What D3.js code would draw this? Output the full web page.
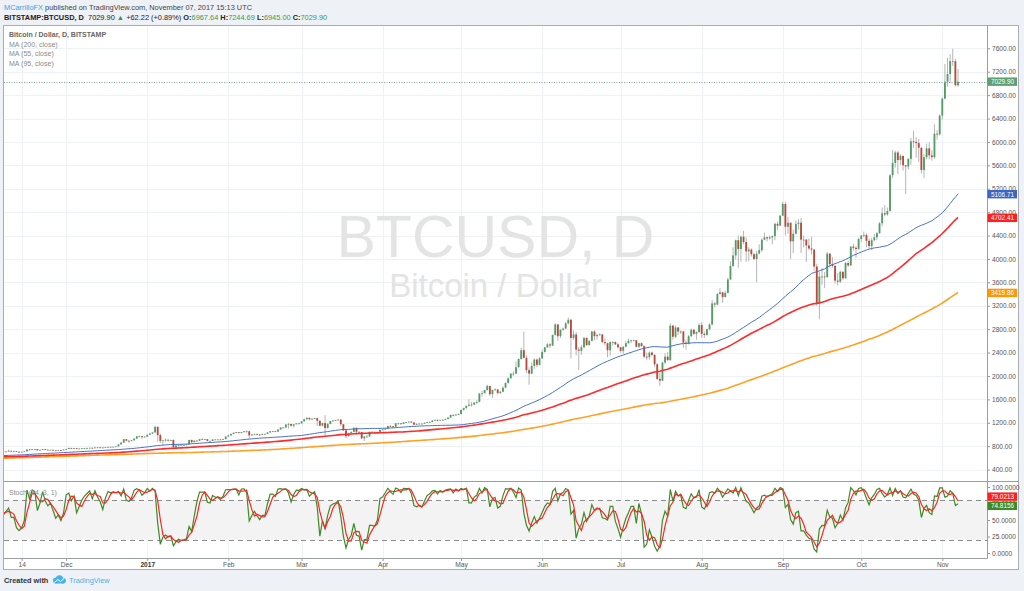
<!DOCTYPE html>
<html>
<head>
<meta charset="utf-8">
<title>BTCUSD, D</title>
<script src="https://d3js.org/d3.v7.min.js"></script>
<style>
  body { margin: 0; background: #eef1f5; }
  svg { display: block; font-family: "Liberation Sans", Arial, sans-serif; }
  .axis text { font-size: 6.6px; fill: #555; }
  .axis line { stroke: #999; }
  .axis path { display: none; }
  .legend { font-size: 7px; fill: #8a8a8a; }
</style>
</head>
<body>
<svg width="1024" height="591"></svg>
<script>
// ---- data (Bitstamp BTCUSD, daily) ----
// closes only, 2016-04-21 .. 2016-10-19, needed for the 200 day average
const earlyStart = "2016-04-21";
const earlyClose = [
  450, 445, 448, 458, 462, 465, 445, 448, 453, 448,
  451, 443, 448, 445, 447, 459, 459, 457, 462, 450, 452, 454, 454, 455, 457, 454, 453, 452, 440, 442, 441, 439, 444, 444, 449, 449, 470, 525, 515, 530, 532,
  535, 537, 568, 573, 578, 583, 575, 580, 575, 577, 585, 670, 700, 685, 692, 765, 745, 755, 762, 735, 665, 595, 620, 665, 665, 630, 650, 645, 635, 670,
  676, 700, 660, 675, 667, 670, 638, 660, 650, 648, 648, 672, 655, 657, 665, 662, 678, 672, 670, 665, 665, 650, 655, 660, 655, 652, 655, 655, 656, 655, 624,
  605, 515, 565, 575, 575, 585, 590, 590, 585, 590, 588, 585, 585, 570, 567, 580, 575, 575, 575, 582, 581, 588, 583, 580, 577, 578, 570, 573, 573, 575, 573,
  571, 574, 600, 608, 605, 610, 612, 624, 623, 623, 605, 608, 610, 609, 607, 606, 606, 610, 609, 608, 596, 595, 602, 603, 600, 606, 605, 604, 605, 608,
  612, 610, 611, 608, 611, 612, 617, 618, 615, 617, 640, 636, 636, 638, 638, 641, 638, 637, 630
];

// full bars from 2016-10-20 to 2017-11-07 (open = previous close)
const firstDay = "2016-10-20";
const close = [
  629, 631, 656, 652, 651, 654, 676, 683, 687, 714, 698, 698,
  728, 739, 687, 705, 703, 711, 705, 710, 722, 715, 715, 705, 702, 705, 712, 743, 740, 750, 750, 730, 738, 750, 740, 735, 738, 730, 728, 733, 732, 742,
  752, 770, 764, 768, 755, 760, 765, 768, 770, 773, 767, 778, 780, 778, 775, 782, 788, 789, 790, 797, 830, 860, 920, 893, 890, 900, 930, 970, 970, 955, 963,
  995, 1015, 1035, 1130, 990, 890, 900, 910, 900, 905, 785, 810, 825, 818, 820, 830, 905, 870, 895, 892, 920, 920, 920, 890, 890, 915, 915, 915, 912, 920, 965,
  985, 1010, 1030, 1040, 1025, 1040, 1055, 1055, 985, 1000, 1010, 1000, 995, 1010, 1010, 1035, 1055, 1055, 1050, 1085, 1120, 1120, 1170, 1180, 1150, 1175, 1190, 1190,
  1225, 1260, 1285, 1260, 1270, 1280, 1235, 1150, 1195, 1110, 1180, 1230, 1240, 1245, 1255, 1175, 1070, 970, 1020, 1045, 1115, 1045, 1040, 935, 965, 965, 1045, 1045, 1040, 1035, 1080,
  1085, 1100, 1145, 1140, 1130, 1190, 1190, 1180, 1205, 1210, 1220, 1205, 1170, 1180, 1185, 1185, 1200, 1210, 1215, 1240, 1250, 1245, 1250, 1250, 1265, 1290, 1335, 1330, 1340, 1350,
  1420, 1450, 1490, 1510, 1510, 1545, 1555, 1700, 1705, 1760, 1830, 1690, 1760, 1770, 1710, 1730, 1800, 1880, 1960, 2040, 2040, 2150, 2290, 2440, 2310, 2100, 2040, 2170, 2280, 2190, 2300,
  2410, 2490, 2540, 2520, 2700, 2880, 2680, 2790, 2810, 2900, 2960, 2650, 2710, 2450, 2430, 2490, 2650, 2530, 2600, 2760, 2680, 2700, 2710, 2580, 2560, 2440, 2580, 2580, 2540, 2490,
  2430, 2500, 2560, 2600, 2610, 2610, 2500, 2560, 2510, 2330, 2320, 2400, 2360, 2200, 1950, 1920, 2230, 2330, 2270, 2860, 2670, 2830, 2760, 2760, 2570, 2550, 2680, 2790, 2720, 2750, 2870,
  2720, 2700, 2800, 2880, 3240, 3220, 3400, 3430, 3350, 3420, 3650, 3880, 4060, 4320, 4170, 4380, 4290, 4130, 4160, 4080, 4000, 4090, 4150, 4330, 4370, 4350, 4370, 4390, 4600, 4570, 4740,
  4940, 4550, 4620, 4300, 4430, 4600, 4620, 4330, 4330, 4230, 4180, 4160, 3870, 3230, 3700, 3700, 3690, 4090, 3910, 3880, 3630, 3610, 3780, 3670, 3930, 3890, 4210, 4190, 4170, 4340,
  4400, 4410, 4310, 4220, 4320, 4370, 4440, 4610, 4780, 4760, 4820, 5430, 5640, 5820, 5690, 5760, 5600, 5580, 5710, 6010, 6000, 5980, 5900, 5520, 5740, 5890, 5770, 5740, 6140, 6130, 6450,
  6740, 7030, 7160, 7380, 7380, 6967.64, 7029.90
];
const high = [
  632, 634, 660, 661, 655, 664, 679, 689, 690, 720, 715, 707,
  735, 742, 745, 708, 708, 715, 712, 715, 740, 724, 719, 717, 707, 708, 716, 746, 752, 753, 755, 752, 741, 754, 752, 742, 741, 740, 734, 737, 737, 746,
  756, 775, 773, 771, 770, 762, 768, 771, 773, 776, 775, 781, 789, 782, 780, 786, 791, 793, 793, 801, 835, 875, 925, 922, 898, 908, 938, 975, 980, 972, 968,
  1000, 1030, 1040, 1150, 1140, 1015, 908, 935, 915, 910, 915, 825, 830, 830, 825, 835, 910, 915, 900, 898, 925, 935, 925, 922, 897, 918, 920, 920, 918, 924, 970,
  990, 1015, 1035, 1045, 1043, 1044, 1060, 1070, 1062, 1005, 1015, 1012, 1005, 1015, 1014, 1040, 1060, 1065, 1058, 1090, 1125, 1128, 1175, 1200, 1182, 1178, 1195, 1200,
  1230, 1270, 1295, 1288, 1275, 1285, 1283, 1240, 1200, 1330, 1200, 1235, 1245, 1250, 1260, 1260, 1180, 1080, 1030, 1050, 1120, 1118, 1055, 1045, 975, 1000, 1048, 1060, 1050, 1050, 1085,
  1095, 1105, 1150, 1160, 1145, 1195, 1200, 1195, 1210, 1215, 1225, 1225, 1210, 1190, 1190, 1190, 1205, 1215, 1220, 1245, 1255, 1255, 1255, 1257, 1270, 1295, 1340, 1345, 1345, 1360,
  1425, 1460, 1495, 1600, 1560, 1555, 1590, 1710, 1750, 1765, 1850, 1830, 1770, 1790, 1775, 1745, 1820, 1890, 1975, 2050, 2080, 2250, 2300, 2480, 2760, 2350, 2150, 2230, 2300, 2300, 2320,
  2450, 2500, 2560, 2560, 2710, 2900, 2890, 2800, 2830, 2920, 3000, 2980, 2780, 2750, 2500, 2530, 2670, 2660, 2610, 2770, 2780, 2720, 2730, 2720, 2640, 2570, 2590, 2600, 2590, 2560,
  2500, 2510, 2600, 2640, 2620, 2620, 2615, 2570, 2570, 2520, 2400, 2420, 2420, 2370, 2220, 2050, 2240, 2390, 2410, 2900, 2870, 2860, 2830, 2780, 2770, 2620, 2700, 2810, 2800, 2760, 2900,
  2920, 2760, 2810, 2900, 3300, 3260, 3420, 3500, 3440, 3460, 3680, 3960, 4200, 4330, 4400, 4400, 4480, 4370, 4200, 4180, 4100, 4140, 4250, 4350, 4450, 4380, 4400, 4400, 4620, 4640, 4750,
  4980, 4980, 4720, 4620, 4500, 4660, 4680, 4700, 4400, 4340, 4350, 4380, 4170, 3920, 3780, 3850, 3780, 4120, 4100, 4030, 3900, 3760, 3800, 3790, 3950, 3970, 4220, 4260, 4220, 4360,
  4410, 4470, 4440, 4350, 4360, 4430, 4460, 4630, 4880, 4920, 4880, 5450, 5860, 5850, 5850, 5790, 5770, 5600, 5720, 6070, 6190, 6080, 6050, 5910, 5790, 5970, 5990, 5860, 6300, 6200, 6470,
  6760, 7330, 7440, 7500, 7590, 7420, 7244.69
];
const low = [
  626, 627, 630, 649, 647, 650, 651, 673, 681, 686, 690, 693,
  696, 726, 680, 686, 697, 700, 700, 703, 705, 710, 711, 700, 685, 698, 703, 710, 733, 735, 745, 722, 728, 735, 737, 728, 732, 725, 724, 726, 728, 730,
  740, 750, 757, 760, 748, 752, 756, 762, 765, 767, 763, 765, 775, 772, 771, 773, 779, 785, 786, 788, 795, 828, 858, 880, 860, 885, 897, 928, 955, 925, 950,
  960, 990, 1010, 1030, 880, 850, 820, 880, 880, 890, 740, 750, 780, 805, 810, 815, 825, 850, 865, 882, 888, 905, 914, 882, 885, 888, 905, 912, 908, 910, 918,
  962, 978, 1005, 1020, 1015, 1020, 1036, 1030, 930, 975, 996, 995, 980, 990, 1004, 1008, 1032, 1048, 1042, 1045, 1082, 1105, 1115, 1100, 1135, 1120, 1170, 1175,
  1185, 1220, 1255, 1240, 1245, 1262, 1145, 1140, 1140, 980, 1100, 1175, 1220, 1230, 1240, 1150, 1060, 940, 965, 1015, 1040, 1000, 1030, 920, 890, 955, 960, 1035, 1015, 1025, 1030,
  1075, 1080, 1095, 1125, 1110, 1128, 1175, 1170, 1175, 1198, 1205, 1200, 1160, 1165, 1175, 1178, 1180, 1195, 1200, 1210, 1235, 1225, 1240, 1240, 1245, 1260, 1285, 1310, 1320, 1330,
  1345, 1410, 1440, 1480, 1480, 1505, 1520, 1550, 1650, 1700, 1750, 1660, 1620, 1750, 1680, 1690, 1720, 1790, 1870, 1950, 2000, 2030, 2140, 2280, 2300, 2050, 1850, 2030, 2120, 2150, 2180,
  2290, 2400, 2480, 2480, 2510, 2690, 2600, 2650, 2770, 2800, 2880, 2300, 2620, 2350, 2100, 2360, 2470, 2510, 2510, 2590, 2610, 2620, 2690, 2560, 2520, 2320, 2350, 2520, 2530, 2470,
  2400, 2380, 2490, 2550, 2560, 2590, 2490, 2480, 2500, 2300, 2270, 2280, 2340, 2150, 1930, 1830, 1910, 2200, 2260, 2260, 2620, 2650, 2700, 2720, 2480, 2450, 2540, 2670, 2700, 2620, 2740,
  2650, 2650, 2690, 2780, 2870, 3170, 3210, 3390, 3250, 3340, 3410, 3640, 3860, 3990, 3850, 3950, 4250, 3950, 3960, 4040, 3980, 3600, 4080, 4120, 4320, 4300, 4330, 4250, 4320, 4500, 4560,
  4730, 4400, 4430, 4000, 4100, 4420, 4500, 4100, 4200, 3950, 4150, 4080, 3800, 3200, 2970, 3560, 3500, 3680, 3850, 3850, 3580, 3550, 3590, 3640, 3660, 3860, 3880, 4140, 4020, 4160,
  4290, 4370, 4200, 4180, 4150, 4300, 4320, 4430, 4560, 4730, 4740, 4810, 5380, 5560, 5450, 5610, 5510, 5110, 5530, 5610, 5900, 5730, 5660, 5460, 5380, 5700, 5700, 5680, 5710, 6040, 6110,
  6380, 6730, 6950, 7000, 7300, 6950, 6945.00
];

// moving averages shown, with the last values printed on the price scale
const maPeriods = [200, 55, 95];
const maColors = ["#ffa126", "#4a70c6", "#ff2a2a"];
const maLabelColors = ["#ff9800", "#3c66c2", "#ff1f1f"];
const maWidths = [1.6, 1, 1.6];
const maLast = [3419.86, 5106.71, 4702.41];

// stochastic (14, 3, 1): %K and %D, last values from the scale labels
const stochLen = 14, stochSmooth = 3;
const stochLast = [74.8156, 79.0213];
const stochBands = [80, 20];

// axis ticks
const priceTicks = [400, 800, 1200, 1600, 2000, 2400, 2800, 3200, 3600, 4000, 4400, 4800, 5200, 5600, 6000, 6400, 6800, 7200, 7600];
const stochTicks = [0, 25, 50, 75, 100];
const timeTicks = ["2016-11-14", "2016-12-01", "2017-01-01", "2017-02-01", "2017-03-01", "2017-04-01", "2017-05-01",
  "2017-06-01", "2017-07-01", "2017-08-01", "2017-09-01", "2017-10-01", "2017-11-01"];
const timeLabels = ["14", "Dec", "2017", "Feb", "Mar", "Apr", "May", "Jun", "Jul", "Aug", "Sep", "Oct", "Nov"];

// header texts
const author = "MCarrilloFX";
const published = " published on TradingView.com, November 07, 2017 15:13 UTC";
const symbol = "BITSTAMP:BTCUSD, D";
const changeText = "+62.22 (+0.89%)";
const legendLines = ["MA (200, close)", "MA (55, close)", "MA (95, close)"];

// ---- layout ----
const svg = d3.select("svg");
const paneL = 4, paneR = 987, mainTop = 26, mainBottom = 481, stochBottom = 558;
const up = "#529c68", down = "#b9493b", green = "#3b9a4a";

const utc = s => new Date(s + "T00:00:00Z");
const n = Math.min(close.length, high.length, low.length);
const bars = d3.range(n).map(i => ({
  date: d3.utcDay.offset(utc(firstDay), i),
  open: i ? close[i - 1] : earlyClose[earlyClose.length - 1],
  high: high[i], low: low[i], close: close[i]
}));

const x = d3.scaleUtc().domain([utc("2016-11-14"), utc("2017-11-01")]).range([21.7, 942.3]);
const y = d3.scaleLinear().domain([400, 7600]).range([469.6, 48.3]);
const ys = d3.scaleLinear().domain([0, 100]).range([553, 487]);
const step = x(utc("2016-11-15")) - x(utc("2016-11-14"));

// page + frame
svg.append("rect").attr("width", 1024).attr("height", 591).attr("fill", "#eef1f5");
svg.append("rect").attr("x", 3.5).attr("y", 25.5).attr("width", 1015).attr("height", 544)
  .attr("fill", "#fff").attr("stroke", "#a9adb2");

const defs = svg.append("defs");
defs.append("clipPath").attr("id", "clipMain").append("rect")
  .attr("x", paneL).attr("y", mainTop).attr("width", paneR - paneL).attr("height", mainBottom - mainTop);
defs.append("clipPath").attr("id", "clipStoch").append("rect")
  .attr("x", paneL).attr("y", mainBottom).attr("width", paneR - paneL).attr("height", stochBottom - mainBottom);

// grid
const grid = svg.append("g").attr("stroke", "#eef1f5").attr("stroke-width", 1);
timeTicks.forEach(t => {
  const xx = Math.round(x(utc(t))) + 0.5;
  grid.append("line").attr("x1", xx).attr("x2", xx).attr("y1", mainTop).attr("y2", stochBottom);
});
priceTicks.forEach(p => {
  const yy = Math.round(y(p)) + 0.5;
  grid.append("line").attr("x1", paneL).attr("x2", paneR).attr("y1", yy).attr("y2", yy);
});

// stoch band
svg.append("rect").attr("x", paneL).attr("width", paneR - paneL)
  .attr("y", ys(stochBands[0])).attr("height", ys(stochBands[1]) - ys(stochBands[0]))
  .attr("fill", "#f3f3f3");

// watermark
const cx = (paneL + paneR) / 2;
svg.append("text").attr("x", cx).attr("y", 257).attr("text-anchor", "middle")
  .attr("font-size", 59).attr("fill", "#e4e4e4").text("BTCUSD, D");
svg.append("text").attr("x", cx).attr("y", 297).attr("text-anchor", "middle")
  .attr("font-size", 33).attr("fill", "#e4e4e4").text("Bitcoin / Dollar");

// candles
const main = svg.append("g").attr("clip-path", "url(#clipMain)");
const candle = main.selectAll("g.bar").data(bars).join("g").attr("class", "bar");
candle.append("line")
  .attr("x1", d => x(d.date)).attr("x2", d => x(d.date))
  .attr("y1", d => y(d.high)).attr("y2", d => y(d.low))
  .attr("stroke", "#b5b5b5").attr("stroke-width", 1);
const bw = step * 0.7;
candle.append("rect")
  .attr("x", d => x(d.date) - bw / 2).attr("width", bw)
  .attr("y", d => y(Math.max(d.open, d.close)))
  .attr("height", d => Math.max(0.8, Math.abs(y(d.open) - y(d.close))))
  .attr("fill", d => d.close >= d.open ? up : down);

// moving averages
const allClose = earlyClose.concat(close.slice(0, n));
const off = earlyClose.length;
const maLine = d3.line().x(d => x(d.date)).y(d => y(d.v));
maPeriods.forEach((p, k) => {
  const pts = bars.map((b, i) => {
    const j = i + off;
    return j < p - 1 ? null : { date: b.date, v: d3.mean(allClose.slice(j - p + 1, j + 1)) };
  }).filter(d => d);
  main.append("path").datum(pts).attr("d", maLine)
    .attr("fill", "none").attr("stroke", maColors[k]).attr("stroke-width", maWidths[k]);
});

// last price line
const last = bars[n - 1];
svg.append("line").attr("x1", paneL).attr("x2", paneR)
  .attr("y1", Math.round(y(last.close)) + 0.5).attr("y2", Math.round(y(last.close)) + 0.5)
  .attr("stroke", "#7fae90").attr("stroke-dasharray", "1,1.5");

// legend
svg.append("text").attr("class", "legend").attr("x", 9).attr("y", 37)
  .style("fill", "#666").attr("font-weight", "bold").text("Bitcoin / Dollar, D, BITSTAMP");
legendLines.forEach((t, i) => {
  svg.append("text").attr("class", "legend").attr("x", 9).attr("y", 46.8 + i * 9.6).text(t);
});

// stochastic
const kVals = bars.map((b, i) => {
  if (i < stochLen - 1) return null;
  const hh = d3.max(high.slice(i - stochLen + 1, i + 1));
  const ll = d3.min(low.slice(i - stochLen + 1, i + 1));
  return 100 * (b.close - ll) / (hh - ll);
});
const dVals = kVals.map((k, i) => {
  const w = kVals.slice(Math.max(0, i - stochSmooth + 1), i + 1);
  return w.length === stochSmooth && w.every(v => v != null) ? d3.mean(w) : null;
});
const stoch = svg.append("g").attr("clip-path", "url(#clipStoch)");
stochBands.forEach(v => {
  stoch.append("line").attr("x1", paneL).attr("x2", paneR)
    .attr("y1", Math.round(ys(v)) + 0.5).attr("y2", Math.round(ys(v)) + 0.5)
    .attr("stroke", "#8c8c8c").attr("stroke-width", 1.2).attr("stroke-dasharray", "5,4");
});
const sLine = vals => d3.line().defined((d, i) => vals[i] != null)
  .x(d => x(d.date)).y((d, i) => ys(vals[i]))(bars);
stoch.append("path").attr("d", sLine(kVals)).attr("fill", "none").attr("stroke", "#3d8b27").attr("stroke-width", 1.2);
stoch.append("path").attr("d", sLine(dVals)).attr("fill", "none").attr("stroke", "#ff2424").attr("stroke-width", 1.2);
svg.append("text").attr("class", "legend").attr("x", 9).attr("y", 494.5).text("Stoch (14, 3, 1)");

// axes
svg.append("g").attr("class", "axis").attr("transform", `translate(${paneR},0)`)
  .call(d3.axisRight(y).tickValues(priceTicks).tickFormat(d3.format(".2f")).tickSize(3).tickPadding(2));
svg.append("g").attr("class", "axis").attr("transform", `translate(${paneR},0)`)
  .call(d3.axisRight(ys).tickValues(stochTicks).tickFormat(d3.format(".4f")).tickSize(3).tickPadding(2));
const timeAxis = svg.append("g").attr("class", "axis").attr("transform", `translate(0,${stochBottom})`)
  .call(d3.axisBottom(x).tickValues(timeTicks.map(utc)).tickFormat((d, i) => timeLabels[i]).tickSize(3).tickPadding(1.5));
timeAxis.selectAll("text").filter((d, i) => timeLabels[i] === "2017").attr("font-weight", "bold").style("fill", "#333");

// separators
const sep = svg.append("g").attr("stroke", "#9a9ea3").attr("stroke-width", 1);
sep.append("line").attr("x1", paneR + 0.5).attr("x2", paneR + 0.5).attr("y1", 25.5).attr("y2", stochBottom + 0.5);
sep.append("line").attr("x1", 3.5).attr("x2", 1018.5).attr("y1", mainBottom + 0.5).attr("y2", mainBottom + 0.5);
sep.append("line").attr("x1", 3.5).attr("x2", paneR + 0.5).attr("y1", stochBottom + 0.5).attr("y2", stochBottom + 0.5);

// value labels on the scales
function valueLabel(yy, text, color) {
  const g = svg.append("g").attr("transform", `translate(${paneR + 0.5},${yy})`);
  g.append("rect").attr("x", 0).attr("y", -4.2).attr("width", 29.5).attr("height", 8.4).attr("fill", color);
  g.append("text").attr("x", 15).attr("y", 2.3).attr("text-anchor", "middle")
    .attr("font-size", 6.4).attr("fill", "#fff").text(text);
}
valueLabel(y(last.close), d3.format(".2f")(last.close), "#5e9f71");
maPeriods.forEach((p, k) => valueLabel(y(maLast[k]), d3.format(".2f")(maLast[k]), maLabelColors[k]));
// stochastic labels pushed apart so both stay readable
const mid = (ys(stochLast[0]) + ys(stochLast[1])) / 2 - 1;
valueLabel(mid - 4.6, d3.format(".4f")(stochLast[1]), "#ff1f1f");
valueLabel(mid + 4.6, d3.format(".4f")(stochLast[0]), "#3d8b27");

// header
const h1 = svg.append("text").attr("x", 4).attr("y", 9.5).attr("font-size", 7.4).attr("fill", "#444");
h1.append("tspan").attr("fill", "#3ba5dd").text(author);
h1.append("tspan").text(published);
const fmt = d3.format(".2f");
const h2 = svg.append("text").attr("x", 4).attr("y", 19.5).attr("font-size", 7.4).attr("fill", "#222");
h2.append("tspan").attr("font-weight", "bold").text(symbol);
h2.append("tspan").text("\u00a0 " + fmt(last.close) + " ");
h2.append("tspan").attr("fill", green).text("\u25b2");
h2.append("tspan").text(" " + changeText + " ");
[["O:", last.open], ["H:", last.high], ["L:", last.low], ["C:", last.close]].forEach(([k, v]) => {
  h2.append("tspan").attr("font-weight", "bold").text(k);
  h2.append("tspan").attr("fill", green).text(fmt(v) + " ");
});

// footer
svg.append("text").attr("x", 4).attr("y", 583).attr("font-size", 7.4).attr("font-weight", "bold")
  .attr("fill", "#333").text("Created with");
const logo = svg.append("g").attr("transform", "translate(52,575)").attr("fill", "#48b2e6");
logo.append("circle").attr("cx", 4).attr("cy", 5.5).attr("r", 3);
logo.append("circle").attr("cx", 7.5).attr("cy", 3.8).attr("r", 3.6);
logo.append("circle").attr("cx", 11).attr("cy", 5.6).attr("r", 2.9);
logo.append("rect").attr("x", 3).attr("y", 5).attr("width", 9).attr("height", 3.5);
logo.append("path").attr("d", "M2.5,7.5 L6,4.5 L8.5,6.5 L12.5,3").attr("fill", "none")
  .attr("stroke", "#fff").attr("stroke-width", 1);
svg.append("text").attr("x", 69).attr("y", 583).attr("font-size", 7.4).attr("fill", "#48b2e6").text("TradingView");
</script>
</body>
</html>
